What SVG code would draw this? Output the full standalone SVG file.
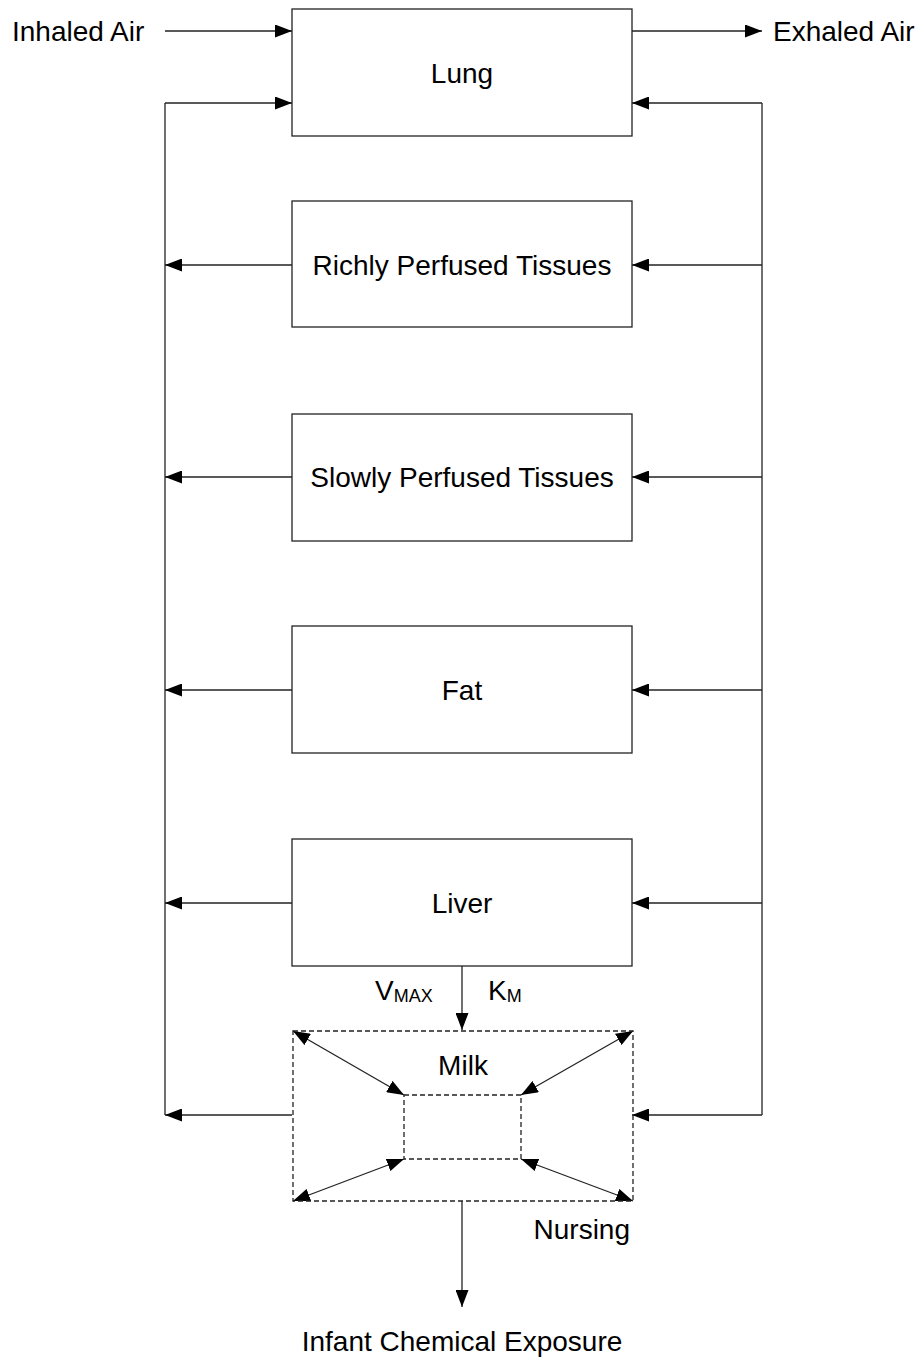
<svg xmlns="http://www.w3.org/2000/svg" width="923" height="1359" viewBox="0 0 923 1359">
<style>
text{font-family:"Liberation Sans",Arial,sans-serif;font-size:28px;fill:#000}
.box{fill:#fff;stroke:#222;stroke-width:1.3}
.dash{fill:none;stroke:#222;stroke-width:1.3;stroke-dasharray:5,3}
.ln{fill:none;stroke:#222;stroke-width:1.3}
.ar{marker-end:url(#ah)}
.dbl{marker-start:url(#ah);marker-end:url(#ah)}
.sub{font-size:18px}
</style>
<defs>
<marker id="ah" markerUnits="userSpaceOnUse" markerWidth="18" markerHeight="13" refX="17" refY="6.5" orient="auto-start-reverse">
<path d="M0,0 L17,6.5 L0,13 Z" fill="#000"/>
</marker>
</defs>
<g id="connectors">
<line class="ln ar" x1="165" y1="31" x2="292" y2="31"/>
<line class="ln ar" x1="632" y1="31" x2="762" y2="31"/>
<polyline class="ln" points="165,103 165,1115"/>
<polyline class="ln" points="762,103 762,1115"/>
<line class="ln ar" x1="165" y1="103" x2="292" y2="103"/>
<line class="ln ar" x1="762" y1="103" x2="632" y2="103"/>
<line class="ln ar" x1="292" y1="265" x2="165" y2="265"/>
<line class="ln ar" x1="762" y1="265" x2="632" y2="265"/>
<line class="ln ar" x1="292" y1="477" x2="165" y2="477"/>
<line class="ln ar" x1="762" y1="477" x2="632" y2="477"/>
<line class="ln ar" x1="292" y1="690" x2="165" y2="690"/>
<line class="ln ar" x1="762" y1="690" x2="632" y2="690"/>
<line class="ln ar" x1="292" y1="903" x2="165" y2="903"/>
<line class="ln ar" x1="762" y1="903" x2="632" y2="903"/>
<line class="ln ar" x1="292" y1="1115" x2="165" y2="1115"/>
<line class="ln ar" x1="762" y1="1115" x2="632" y2="1115"/>
<line class="ln ar" x1="462" y1="966" x2="462" y2="1030"/>
<line class="ln ar" x1="462" y1="1201" x2="462" y2="1307"/>
<line class="ln dbl" x1="293" y1="1031" x2="404" y2="1095"/>
<line class="ln dbl" x1="633" y1="1031" x2="521" y2="1095"/>
<line class="ln dbl" x1="293" y1="1201" x2="404" y2="1159"/>
<line class="ln dbl" x1="633" y1="1201" x2="521" y2="1159"/>
</g>
<g id="inhaled"><text x="12" y="41">Inhaled Air</text></g>
<g id="exhaled"><text x="773" y="41">Exhaled Air</text></g>
<g id="lung"><rect class="box" x="292" y="9" width="340" height="127"/><text x="462" y="83" text-anchor="middle">Lung</text></g>
<g id="rich"><rect class="box" x="292" y="201" width="340" height="126"/><text x="462" y="275" text-anchor="middle">Richly Perfused Tissues</text></g>
<g id="slow"><rect class="box" x="292" y="414" width="340" height="127"/><text x="462" y="487" text-anchor="middle">Slowly Perfused Tissues</text></g>
<g id="fat"><rect class="box" x="292" y="626" width="340" height="127"/><text x="462" y="700" text-anchor="middle">Fat</text></g>
<g id="liver"><rect class="box" x="292" y="839" width="340" height="127"/><text x="462" y="913" text-anchor="middle">Liver</text></g>
<g id="vmax"><text x="375" y="1000">V<tspan class="sub" dy="2">MAX</tspan></text></g>
<g id="km"><text x="488" y="1000">K<tspan class="sub" dy="2">M</tspan></text></g>
<g id="milk"><rect class="dash" x="293" y="1031" width="340" height="170"/><rect class="dash" x="404" y="1095" width="117" height="64"/><text x="463" y="1075" text-anchor="middle">Milk</text></g>
<g id="nursing"><text x="630" y="1239" text-anchor="end">Nursing</text></g>
<g id="infant"><text x="462" y="1351" text-anchor="middle">Infant Chemical Exposure</text></g>
</svg>
